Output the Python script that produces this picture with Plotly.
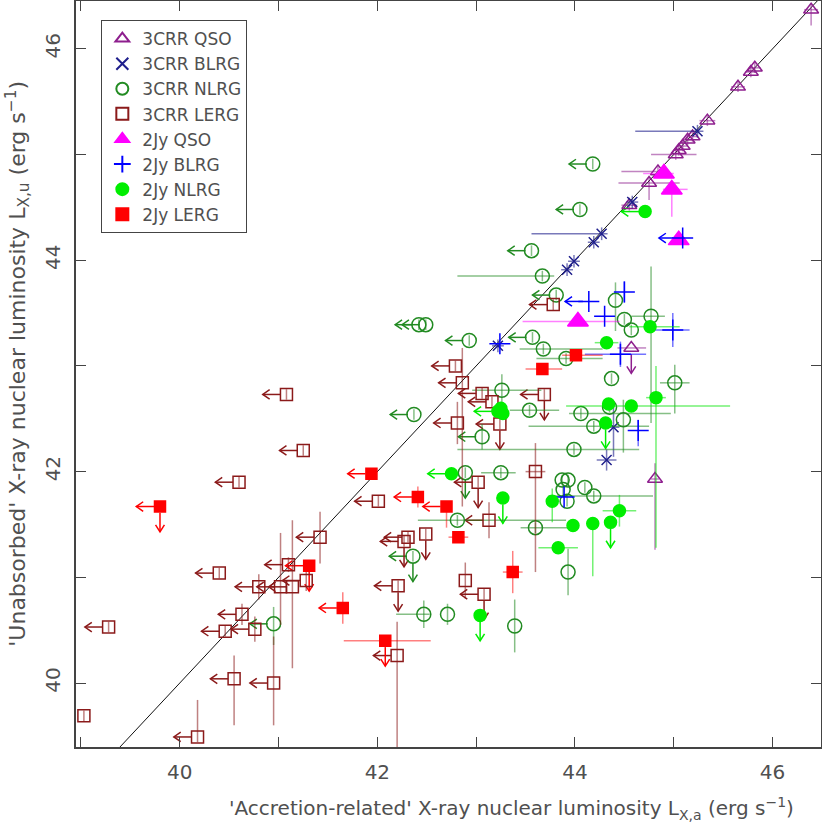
import plotly.graph_objects as go

# ---------------- data (log L, erg/s) ----------------
# 3CRR QSO
q3_x = [46.39, 45.82, 45.78, 45.65, 45.34, 45.19, 45.14, 45.09, 45.05, 45.02, 44.84, 44.75, 44.55, 44.57, 44.81]
q3_y = [46.37, 45.82, 45.78, 45.64, 45.32, 45.17, 45.14, 45.08, 45.04, 45.00, 44.84, 44.73, 44.52, 43.17, 41.93]
q3_xm = [0.07, 0.06, 0.06, 0.07, 0.08, 0.05, 0.05, 0.05, 0.05, 0.25, 0.37, 0.31, 0.08, 0.14, 0.04]
q3_xp = [0.07, 0.06, 0.06, 0.07, 0.08, 0.05, 0.05, 0.05, 0.05, 0.21, 0.02, 0.31, 0.08, 0.15, 0.04]
q3_ym = [0.15, 0.05, 0.05, 0.05, 0.05, 0.05, 0.05, 0.05, 0.05, 0.05, 0.05, 0.16, 0.05, 0.0, 0.67]
q3_yp = [0.05, 0.05, 0.05, 0.05, 0.05, 0.05, 0.05, 0.05, 0.05, 0.05, 0.05, 0.05, 0.05, 0.0, 0.15]
q3_xul = [0] * 15
q3_yul = [0] * 13 + [1, 0]

# 3CRR BLRG
b3_x = [45.24, 44.58, 44.27, 44.19, 43.99, 43.92, 43.22, 44.39, 44.32]
b3_y = [45.22, 44.55, 44.25, 44.17, 43.99, 43.91, 43.19, 42.42, 42.11]
b3_xm = [0.63, 0.06, 0.71, 0.06, 0.06, 0.06, 0.06, 0.06, 0.10]
b3_xp = [0.06, 0.06, 0.06, 0.06, 0.06, 0.06, 0.06, 0.06, 0.10]
b3_ym = [0.06, 0.06, 0.06, 0.06, 0.06, 0.06, 0.06, 0.28, 0.10]
b3_yp = [0.06, 0.06, 0.06, 0.06, 0.06, 0.06, 0.06, 0.19, 0.10]
b3_xul = [0] * 9
b3_yul = [0] * 9

# 3CRR NLRG
n3_x = [44.18, 44.05, 43.56, 43.67, 43.81, 42.42, 42.49, 42.93, 43.57, 43.68,
        44.41, 44.50, 44.77, 44.57, 43.91, 43.26, 43.54, 42.37, 43.06, 42.89,
        43.25, 43.88, 44.37, 45.01, 44.06, 44.35, 44.49, 44.19, 43.99, 43.93,
        43.87, 44.10, 44.19, 43.92, 43.60, 43.93, 43.39, 42.81, 42.36, 42.47,
        42.71, 40.95]
n3_y = [44.91, 44.48, 44.09, 43.85, 43.67, 43.39, 43.39, 43.24, 43.27, 43.16,
        43.62, 43.44, 43.47, 43.34, 43.07, 42.77, 42.58, 42.54, 42.33, 41.99,
        41.99, 41.83, 42.88, 42.84, 42.55, 42.61, 42.49, 42.43, 42.21, 41.92,
        41.92, 41.85, 41.77, 41.72, 41.47, 41.05, 40.54, 41.54, 41.20, 40.65,
        40.65, 40.56]
n3_xm = [0, 0, 0, 0.86, 0, 0, 0, 0, 0, 0.24,
         0, 0, 0.20, 0, 0.30, 0.30, 0.20, 0, 0, 0,
         0.20, 0, 0, 0.15, 0.12, 0, 0, 0.66, 1.18, 0,
         0, 0, 0.46, 0, 0.15, 0, 0, 0.40, 0, 0.28,
         0, 0]
n3_xp = [0, 0, 0, 0.12, 0, 0, 0, 0, 0, 0.60,
         0, 0, 0.14, 0, 0.37, 0.40, 0.30, 0, 0, 0,
         0.15, 0, 0, 0.15, 0.91, 0, 0, 0.56, 0.66, 0,
         0, 0, 0.60, 0, 0.34, 0, 0, 1.10, 0, 0.06,
         0, 0]
n3_ym = [0.05, 0.05, 0.05, 0.05, 0.05, 0.05, 0.05, 0.05, 0.05, 0.05,
         0.29, 0.05, 1.01, 0.05, 0.05, 0.15, 0.05, 0.05, 0.12, 0.05,
         0.05, 0.05, 0.05, 0.29, 0.05, 0.05, 0.31, 0.05, 0.05, 0.05,
         0.05, 0.05, 0.05, 0.05, 0.05, 0.22, 0.25, 0.05, 0.05, 0.13,
         0.10, 0.20]
n3_yp = [0.05, 0.05, 0.05, 0.05, 0.05, 0.05, 0.05, 0.05, 0.05, 0.05,
         0.17, 0.05, 0.47, 0.05, 0.05, 0.15, 0.05, 0.05, 0.12, 0.05,
         0.05, 0.05, 0.05, 0.17, 0.05, 0.05, 0.19, 0.05, 0.05, 0.05,
         0.05, 0.05, 0.05, 0.05, 0.05, 0.22, 0.25, 0.05, 0.05, 0.13,
         0.10, 0.16]
n3_xul = [1, 1, 1, 0, 1, 1, 1, 1, 1, 0,
          0, 0, 0, 0, 0, 0, 0, 1, 1, 0,
          0, 0, 0, 0, 0, 0, 0, 0, 0, 0,
          0, 0, 0, 0, 0, 0, 0, 0, 1, 0,
          0, 1]
n3_yul = [0] * 19 + [1] + [0] * 18 + [1, 0, 0, 0]

# 3CRR LERG
l3_x = [41.08, 41.25, 40.60, 40.40, 39.28, 39.03, 40.18, 40.55, 40.95, 40.46,
        40.63, 40.76, 40.80, 41.02, 41.14, 41.10, 41.28, 41.42, 42.01, 42.27,
        42.31, 42.49, 42.21, 42.20, 43.13, 42.89, 43.08, 43.78, 42.79, 42.86,
        43.06, 43.16, 43.69, 42.81, 43.24, 43.02, 43.60]
l3_y = [42.73, 42.20, 41.90, 41.04, 40.53, 39.69, 39.49, 40.04, 40.00, 40.49,
        40.65, 40.51, 40.91, 40.91, 40.91, 41.12, 40.97, 41.38, 41.72, 41.34,
        41.38, 41.41, 40.92, 40.26, 41.54, 40.97, 40.84, 43.58, 43.00, 42.84,
        42.74, 42.66, 42.73, 42.46, 42.45, 41.90, 42.00]
l3_xm = [0] * 36 + [0.10]
l3_xp = [0] * 36 + [0.10]
l3_ym = [0.05, 0.05, 0.05, 0.05, 0.05, 0.05, 0.05, 0.44, 0.40, 0.05,
         0.10, 0.12, 0.12, 0.36, 0.77, 0.07, 0.10, 0.25, 0.05, 0.05,
         0.05, 0.05, 0.05, 1.00, 0.17, 0.17, 0.05, 0.05, 0.05, 1.17,
         0.05, 0.05, 0.05, 0.20, 0.05, 0.05, 0.95]
l3_yp = [0.05, 0.05, 0.05, 0.05, 0.05, 0.05, 0.35, 0.22, 0.44, 0.05,
         0.10, 0.12, 0.12, 0.51, 0.63, 0.07, 0.10, 0.24, 0.05, 0.05,
         0.05, 0.05, 0.05, 0.32, 0.17, 0.17, 0.05, 0.05, 0.05, 0.33,
         0.05, 0.05, 0.05, 0.20, 0.05, 0.05, 0.27]
l3_xul = [1, 1, 1, 1, 1, 0, 1, 1, 1, 1,
          1, 1, 1, 1, 1, 1, 1, 1, 1, 1,
          1, 0, 1, 1, 1, 0, 1, 1, 1, 1,
          1, 1, 1, 1, 1, 1, 0]
l3_yul = [0, 0, 0, 0, 0, 0, 0, 0, 0, 0,
          0, 0, 0, 0, 0, 0, 0, 0, 0, 1,
          0, 1, 1, 0, 0, 0, 1, 0, 0, 0,
          0, 0, 1, 0, 1, 1, 0]

# 2Jy QSO
q2_x = [44.90, 44.98, 45.05, 44.03]
q2_y = [44.82, 44.67, 44.19, 43.42]
q2_xm = [0.21, 0.09, 0.0, 0.56]
q2_xp = [0.10, 0.16, 0.0, 0.42]
q2_ym = [0.0, 0.26, 0.0, 0.0]
q2_yp = [0.0, 0.0, 0.0, 0.0]
q2_xul = [0, 0, 0, 0]
q2_yul = [0, 0, 0, 0]

# 2Jy BLRG
b2_x = [45.09, 44.14, 44.50, 44.30, 44.99, 44.46, 44.64, 43.89, 43.24]
b2_y = [44.21, 43.61, 43.70, 43.47, 43.34, 43.11, 42.39, 41.76, 43.21]
b2_xm = [0, 0, 0, 0, 0.24, 0.36, 0, 0, 0]
b2_xp = [0, 0, 0, 0, 0.17, 0.26, 0, 0, 0]
b2_ym = [0, 0, 0.10, 0, 0.16, 0.12, 0.15, 0, 0]
b2_yp = [0, 0, 0.10, 0, 0.16, 0.12, 0.10, 0, 0]
b2_xul = [1, 1, 0, 0, 0, 0, 0, 0, 0]
b2_yul = [0] * 9

# 2Jy NLRG
n2_x = [44.71, 44.32, 44.76, 44.82, 44.34, 44.57, 44.31, 43.22, 43.27, 43.25,
        42.75, 43.27, 43.77, 43.98, 44.18, 44.36, 44.45, 43.83, 43.04]
n2_y = [44.46, 43.22, 43.37, 42.70, 42.64, 42.62, 42.46, 42.57, 42.55, 42.60,
        41.98, 41.75, 41.72, 41.49, 41.51, 41.52, 41.63, 41.28, 40.64]
n2_xm = [0, 0.12, 0.21, 0.10, 0, 0.66, 0, 0, 0, 0, 0, 0, 0, 0, 0, 0, 0.17, 0.20, 0]
n2_xp = [0, 0.12, 0.30, 0.10, 0, 1.00, 0, 0, 0, 0, 0, 0, 0, 0, 0, 0, 0.17, 0.20, 0]
n2_ym = [0, 0, 0, 1.42, 0, 0, 0, 0, 0, 0, 0, 0, 0.20, 0, 0.50, 0, 0.15, 0, 0]
n2_yp = [0, 0, 0, 0.30, 0, 0, 0, 0, 0, 0, 0, 0, 0.12, 0, 0, 0, 0.15, 0, 0]
n2_xul = [1, 0, 0, 0, 0, 0, 0, 1, 0, 0, 1, 0, 0, 0, 0, 0, 0, 0, 0]
n2_yul = [0, 0, 0, 0, 0, 0, 1, 0, 0, 0, 0, 1, 0, 0, 0, 1, 0, 0, 1]

# 2Jy LERG
l2_x = [39.80, 41.31, 41.65, 42.70, 42.82, 43.37, 42.08, 41.94, 42.41, 43.67, 44.01]
l2_y = [41.67, 41.11, 40.71, 41.67, 41.38, 41.05, 40.40, 41.98, 41.76, 42.97, 43.10]
l2_xm = [0, 0, 0, 0, 0.10, 0.10, 0.42, 0, 0, 0.17, 0.14]
l2_xp = [0, 0, 0, 0, 0.10, 0.10, 0.46, 0, 0, 0.20, 0.27]
l2_ym = [0, 0, 0.15, 0.20, 0, 0.20, 0, 0, 0.10, 0, 0]
l2_yp = [0, 0, 0.15, 0.05, 0, 0.20, 0, 0, 0.10, 0, 0]
l2_xul = [1, 1, 1, 1, 0, 0, 0, 1, 1, 0, 0]
l2_yul = [1, 1, 0, 0, 0, 0, 1, 0, 0, 0, 0]

diag = [38.0, 47.0]

series = [
    ("3CRR QSO", q3_x, q3_y, q3_xm, q3_xp, q3_ym, q3_yp, q3_xul, q3_yul,
     "#8e1f8e", "rgba(142,31,142,0.55)", "triangle-up-open", 13),
    ("3CRR BLRG", b3_x, b3_y, b3_xm, b3_xp, b3_ym, b3_yp, b3_xul, b3_yul,
     "#1f1f8c", "rgba(31,31,140,0.6)", "x-thin", 10),
    ("3CRR NLRG", n3_x, n3_y, n3_xm, n3_xp, n3_ym, n3_yp, n3_xul, n3_yul,
     "#228b22", "rgba(34,139,34,0.55)", "circle-open", 14),
    ("3CRR LERG", l3_x, l3_y, l3_xm, l3_xp, l3_ym, l3_yp, l3_xul, l3_yul,
     "#8b1a1a", "rgba(139,26,26,0.55)", "square-open", 12),
    ("2Jy QSO", q2_x, q2_y, q2_xm, q2_xp, q2_ym, q2_yp, q2_xul, q2_yul,
     "#ff00ff", "rgba(255,0,255,0.5)", "triangle-up", 18),
    ("2Jy BLRG", b2_x, b2_y, b2_xm, b2_xp, b2_ym, b2_yp, b2_xul, b2_yul,
     "#0000ff", "rgba(0,0,255,0.55)", "cross-thin", 15),
    ("2Jy NLRG", n2_x, n2_y, n2_xm, n2_xp, n2_ym, n2_yp, n2_xul, n2_yul,
     "#00ee00", "rgba(0,230,0,0.55)", "circle", 12),
    ("2Jy LERG", l2_x, l2_y, l2_xm, l2_xp, l2_ym, l2_yp, l2_xul, l2_yul,
     "#ff0000", "rgba(255,0,0,0.5)", "square", 11),
]


def limit_arrows(x, y, xul, yul, length=0.24, gap=0.06):
    """Build '<' and 'v' arrow paths for upper limits."""
    ax, ay = [], []
    for xi, yi, lx, ly in zip(x, y, xul, yul):
        if lx:
            tip = xi - length
            ax += [xi - gap, tip, None, tip + 0.07, tip, tip + 0.07, None]
            ay += [yi, yi, None, yi + 0.045, yi, yi - 0.045, None]
        if ly:
            tip = yi - length
            ax += [xi, xi, None, xi - 0.045, xi, xi + 0.045, None]
            ay += [yi - gap, tip, None, tip + 0.066, tip, tip + 0.066, None]
    return ax, ay


fig = go.Figure()

fig.add_trace(go.Scatter(x=diag, y=diag, mode="lines",
                         line=dict(color="#111111", width=1),
                         showlegend=False, hoverinfo="skip"))

for (name, x, y, xm, xp, ym, yp, xul, yul, col, ecol, sym, size) in series:
    ax, ay = limit_arrows(x, y, xul, yul)
    if ax:
        fig.add_trace(go.Scatter(x=ax, y=ay, mode="lines",
                                 line=dict(color=col, width=1.5),
                                 showlegend=False, hoverinfo="skip"))

for (name, x, y, xm, xp, ym, yp, xul, yul, col, ecol, sym, size) in series:
    fig.add_trace(go.Scatter(
        x=x, y=y, mode="markers", name=name,
        marker=dict(symbol=sym, size=size, color=col,
                    line=dict(color=col, width=1.5)),
        error_x=dict(type="data", symmetric=False, array=xp, arrayminus=xm,
                     color=ecol, thickness=1.5, width=0),
        error_y=dict(type="data", symmetric=False, array=yp, arrayminus=ym,
                     color=ecol, thickness=1.5, width=0),
    ))

axis_common = dict(
    showgrid=False, zeroline=False, showline=True, mirror="ticks",
    linecolor="#444444", linewidth=1.5, automargin=False,
    ticks="inside", ticklen=10, tickwidth=1, tickcolor="#444444",
    tickmode="linear", dtick=2, tick0=40,
    minor=dict(dtick=1, ticks="inside", ticklen=10, tickwidth=1, tickcolor="#444444"),
    tickfont=dict(family="DejaVu Sans", size=20, color="#505050"),
)

fig.update_xaxes(range=[38.95, 46.49], ticklabelstandoff=6, **axis_common)
fig.update_yaxes(range=[39.395, 46.452], tickangle=-90, ticklabelstandoff=6,
                 **axis_common)

fig.add_annotation(
    text="'Accretion-related' X-ray nuclear luminosity L<sub>X,a</sub> (erg s<sup>\u22121</sup>)",
    xref="paper", yref="paper", x=0.585, y=-0.082, showarrow=False,
    xanchor="center", yanchor="middle",
    font=dict(family="DejaVu Sans", size=20, color="#505050"))
fig.add_annotation(
    text="'Unabsorbed' X-ray nuclear luminosity L<sub>X,u</sub> (erg s<sup>\u22121</sup>)",
    xref="paper", yref="paper", x=-0.079, y=0.514, showarrow=False,
    textangle=-90, xanchor="center", yanchor="middle",
    font=dict(family="DejaVu Sans", size=22, color="#505050"))

fig.update_layout(
    width=822, height=834,
    margin=dict(l=76, r=1, t=1, b=87),
    paper_bgcolor="white", plot_bgcolor="white",
    legend=dict(x=0.034, y=0.9745, xanchor="left", yanchor="top",
                bordercolor="#444444", borderwidth=1, bgcolor="white",
                font=dict(family="DejaVu Sans", size=17, color="#505050"),
                tracegroupgap=0, itemsizing="constant",
                entrywidth=150, entrywidthmode="pixels"),
)

fig.write_html("out.html", config={"displayModeBar": False},
               post_script="document.body.style.margin='0';")
